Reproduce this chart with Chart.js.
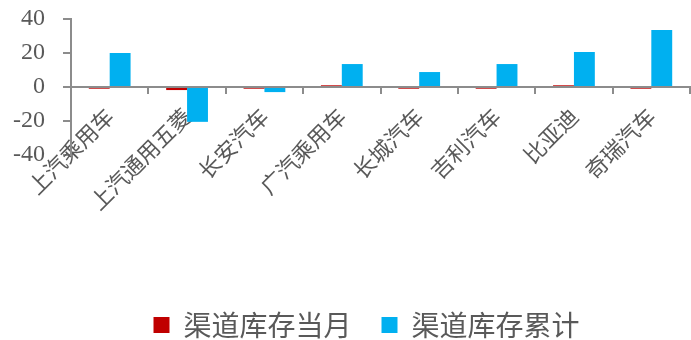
<!DOCTYPE html>
<html lang="zh">
<head>
    <meta charset="UTF-8">
    <title>渠道库存</title>
    <script src="https://cdn.jsdelivr.net/npm/chart.js"></script>
    <style>
        html, body { margin: 0; padding: 0; background: white; }
        .chart-container { width: 691px; height: 340px; }
    </style>
</head>
<body>
    <div class="chart-container">
        <canvas id="stockChart"></canvas>
    </div>

    <script>
        // data
        const categories = ['上汽乘用车', '上汽通用五菱', '长安汽车', '广汽乘用车', '长城汽车', '吉利汽车', '比亚迪', '奇瑞汽车'];
        const monthValues = [-1, -1.8, -1, 1, -1, -1, 1, -1];
        const totalValues = [20, -20.5, -3, 13.5, 8.8, 13.5, 20.6, 33.5];
        const yTicks = [40, 20, 0, -20, -40];

        const axisGray = '#8c8c8c';
        const textGray = '#595959';

        // nudge the legend row a little to the left, as in the original
        const legendShift = {
            id: 'legendShift',
            afterLayout(chart) {
                chart.legend.left -= 14;
                chart.legend.right -= 14;
            }
        };

        const ctx = document.getElementById('stockChart').getContext('2d');
        new Chart(ctx, {
            type: 'bar',
            data: {
                labels: categories,
                datasets: [
                    { label: '渠道库存当月', data: monthValues, backgroundColor: '#C00000' },
                    { label: '渠道库存累计', data: totalValues, backgroundColor: '#00B0F0' }
                ]
            },
            options: {
                responsive: true,
                maintainAspectRatio: false,
                animation: false,
                // bottom padding is negative so the legend row sits low like the original
                layout: { padding: { top: 19, right: 1, left: 0, bottom: -9 } },
                datasets: { bar: { categoryPercentage: 0.54, barPercentage: 1 } },
                scales: {
                    x: {
                        position: { y: 0 },
                        grid: { offset: true, drawOnChartArea: false, drawTicks: true, tickLength: 6, color: axisGray, lineWidth: 2 },
                        border: { display: true, color: axisGray, width: 2 },
                        ticks: {
                            minRotation: 45, maxRotation: 45, autoSkip: false,
                            padding: 10,
                            color: textGray,
                            font: { family: '"Noto Sans CJK SC"', size: 22 }
                        }
                    },
                    y: {
                        min: -40, max: 40,
                        afterFit: scale => { scale.width = 71; },
                        afterBuildTicks: scale => { scale.ticks = yTicks.map(v => ({ value: v })); },
                        grid: { drawOnChartArea: false, drawTicks: true, tickLength: 8, color: axisGray, lineWidth: 2 },
                        border: { display: true, color: axisGray, width: 2 },
                        ticks: {
                            autoSkip: false,
                            padding: 18,
                            color: textGray,
                            // tiny lineHeight keeps the label from padding the top of the plot
                            font: { family: '"Liberation Serif", serif', size: 24, lineHeight: 0.05 }
                        }
                    }
                },
                plugins: {
                    legend: {
                        position: 'bottom',
                        fullSize: false,
                        maxHeight: 260,
                        title: { display: true, text: '', font: { size: 10, lineHeight: 1 }, padding: { top: 116, bottom: 0 } },
                        labels: {
                            boxWidth: 16, boxHeight: 16, padding: 30,
                            color: textGray,
                            font: { family: '"Noto Sans CJK SC"', size: 28 }
                        }
                    },
                    tooltip: { enabled: false }
                }
            },
            plugins: [legendShift]
        });
    </script>
</body>
</html>
